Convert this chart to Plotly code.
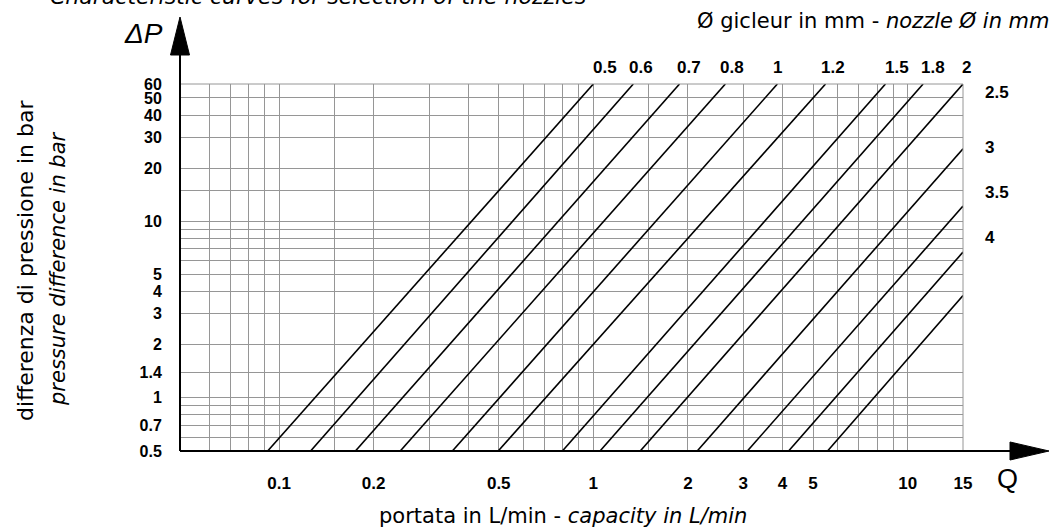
import math
import plotly.graph_objects as go

# ---------------- data ----------------
nozzle_labels = ["0.5", "0.6", "0.7", "0.8", "1", "1.2", "1.5", "1.8", "2",
                 "2.5", "3", "3.5", "4"]
# each nozzle curve is a straight line on the log-log chart: start / end points
q_start = [0.092, 0.126, 0.175, 0.243, 0.356, 0.498, 0.797, 1.05, 1.41,
           2.14, 3.09, 4.18, 5.56]
p_start = [0.5] * 13
q_end = [1.0, 1.34, 1.88, 2.63, 3.85, 5.48, 8.5, 11.2, 15,
         15, 15, 15, 15]
p_end = [60, 60, 60, 60, 60, 60, 60, 60, 60,
         25.8, 12.2, 6.7, 3.8]

x_tick_vals = [0.1, 0.2, 0.5, 1, 2, 3, 4, 5, 10, 15]
x_tick_text = ["0.1", "0.2", "0.5", "1", "2", "3", "4", "5", "10", "15"]
y_tick_vals = [0.5, 0.7, 1, 1.4, 2, 3, 4, 5, 10, 20, 30, 40, 50, 60]
y_tick_text = ["0.5", "0.7", "1", "1.4", "2", "3", "4", "5", "10", "20",
               "30", "40", "50", "60"]
x_grid_vals = [0.06, 0.07, 0.08, 0.09, 0.1, 0.15, 0.2, 0.3, 0.4, 0.5, 0.6,
               0.7, 0.8, 0.9, 1, 1.5, 2, 3, 4, 5, 6, 7, 8, 9, 10]
y_grid_vals = [0.6, 0.7, 0.8, 0.9, 1, 1.4, 2, 3, 4, 5, 6, 7, 8, 9, 10, 15,
               20, 30, 40, 50]
x_min, x_max = 0.0484, 15
y_min, y_max = 0.5, 60

# ---------------- layout constants ----------------
W, H = 1055, 529
ML, MR, MT, MB = 180, 92, 84, 78
PW, PH = W - ML - MR, H - MT - MB


def px(xp):
    return (xp - ML) / PW


def py(yp):
    return (H - MB - yp) / PH


GRID = "#969696"
TICKFONT = dict(family="Liberation Sans, Arial", size=17, color="black", weight="bold")
YTICKFONT = dict(family="Liberation Sans, Arial", size=16, color="black", weight="bold")
TXT = "DejaVu Sans, Liberation Sans, Arial"


def build_ticks(grid, vals, texts):
    allv = sorted(set(grid) | set(vals))
    lab = dict(zip(vals, texts))
    return allv, [lab.get(v, "") for v in allv]


xtv, xtt = build_ticks(x_grid_vals, x_tick_vals, x_tick_text)
ytv, ytt = build_ticks(y_grid_vals, y_tick_vals, y_tick_text)

fig = go.Figure()
for i in range(len(nozzle_labels)):
    fig.add_trace(go.Scatter(
        x=[q_start[i], q_end[i]], y=[p_start[i], p_end[i]],
        mode="lines", line=dict(color="black", width=1.6),
        showlegend=False, hoverinfo="skip", name=nozzle_labels[i]))

annotations = []
top_label_xshift = [12, 8, 9, 7, 0, 7, 12, 10, 3]
right_label_y = [92, 147, 192, 237]
ti = ri = 0
for i, lab in enumerate(nozzle_labels):
    if p_end[i] >= y_max:
        annotations.append(dict(
            xref="x", yref="paper", x=math.log10(q_end[i]), y=py(67),
            xshift=top_label_xshift[ti], text=lab, showarrow=False,
            font=TICKFONT, xanchor="center", yanchor="middle"))
        ti += 1
    else:
        annotations.append(dict(
            xref="paper", yref="paper", x=px(983), y=py(right_label_y[ri]),
            text=lab, showarrow=False, font=TICKFONT,
            xanchor="left", yanchor="middle"))
        ri += 1

annotations += [
    dict(xref="paper", yref="paper", x=px(588), y=py(-4), xanchor="right",
         yanchor="middle", showarrow=False,
         text="<i>Characteristic curves for selection of the nozzles</i>",
         font=dict(family=TXT, size=22, color="black")),
    dict(xref="paper", yref="paper", x=px(1052), y=py(21), xanchor="right",
         yanchor="middle", showarrow=False,
         text="Ø gicleur in mm - <i>nozzle Ø in mm</i>",
         font=dict(family=TXT, size=21, color="black")),
    dict(xref="paper", yref="paper", x=px(143), y=py(34), xanchor="center",
         yanchor="middle", showarrow=False, text="<i>ΔP</i>",
         font=dict(family="Liberation Sans, Arial", size=28, color="black")),
    dict(xref="paper", yref="paper", x=px(1007), y=py(479), xanchor="center",
         yanchor="middle", showarrow=False, text="Q",
         font=dict(family="Liberation Sans, Arial", size=27, color="black")),
    dict(xref="paper", yref="paper", x=px(563), y=py(516), xanchor="center",
         yanchor="middle", showarrow=False,
         text="portata in L/min - <i>capacity in L/min</i>",
         font=dict(family=TXT, size=21, color="black")),
    dict(xref="paper", yref="paper", x=px(25), y=py(261), xanchor="center",
         yanchor="middle", showarrow=False, textangle=-90,
         text="differenza di pressione in bar",
         font=dict(family=TXT, size=22, color="black")),
    dict(xref="paper", yref="paper", x=px(58), y=py(269), xanchor="center",
         yanchor="middle", showarrow=False, textangle=-90,
         text="<i>pressure difference in bar</i>",
         font=dict(family=TXT, size=21, color="black")),
]

shapes = [
    # top and right border of the grid
    dict(type="line", xref="paper", yref="paper", x0=0, x1=1, y0=1, y1=1,
         line=dict(color=GRID, width=1)),
    dict(type="line", xref="paper", yref="paper", x0=1, x1=1, y0=0, y1=1,
         line=dict(color=GRID, width=1)),
    # vertical axis with arrow
    dict(type="line", xref="paper", yref="paper", x0=0, x1=0, y0=0, y1=py(50),
         line=dict(color="black", width=2)),
    dict(type="path", xref="paper", yref="paper",
         path=f"M {px(170.5)},{py(55)} L {px(180)},{py(17)} L {px(189.5)},{py(55)} Z",
         fillcolor="black", line=dict(color="black", width=1)),
    # horizontal axis with arrow
    dict(type="line", xref="paper", yref="paper", x0=0, x1=px(1015), y0=0, y1=0,
         line=dict(color="black", width=2)),
    dict(type="path", xref="paper", yref="paper",
         path=f"M {px(1010)},{py(442)} L {px(1049)},{py(451)} L {px(1010)},{py(460)} Z",
         fillcolor="black", line=dict(color="black", width=1)),
]

fig.update_layout(
    width=W, height=H, margin=dict(l=ML, r=MR, t=MT, b=MB, pad=0),
    paper_bgcolor="white", plot_bgcolor="white", showlegend=False,
    annotations=annotations, shapes=shapes,
    xaxis=dict(type="log", range=[math.log10(x_min), math.log10(x_max)],
               tickmode="array", tickvals=xtv, ticktext=xtt,
               showgrid=True, gridcolor=GRID, gridwidth=1, zeroline=False,
               showline=False, ticks="outside", ticklen=17,
               tickcolor="rgba(0,0,0,0)", tickfont=TICKFONT),
    yaxis=dict(type="log", range=[math.log10(y_min), math.log10(y_max)],
               tickmode="array", tickvals=ytv, ticktext=ytt,
               showgrid=True, gridcolor=GRID, gridwidth=1, zeroline=False,
               showline=False, ticks="outside", ticklen=14,
               tickcolor="rgba(0,0,0,0)", tickfont=YTICKFONT),
)

fig.write_html("out.html", config={"displayModeBar": False},
               post_script="document.body.style.margin='0';document.body.style.padding='0';")
